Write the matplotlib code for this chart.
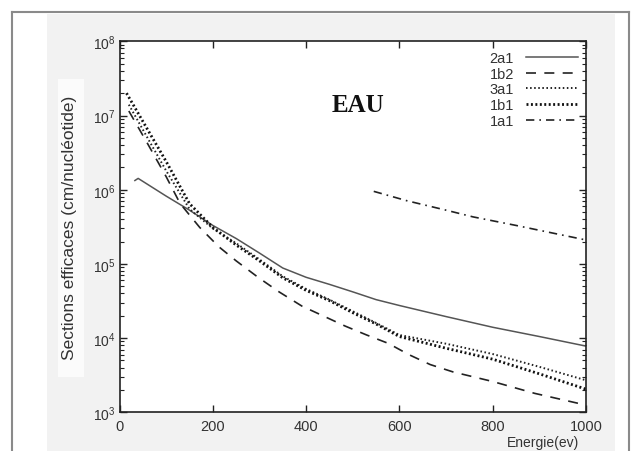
import matplotlib
matplotlib.use('Agg')
import matplotlib.pyplot as plt
from matplotlib.patches import Rectangle
from matplotlib.lines import Line2D
from matplotlib.ticker import FixedLocator, FixedFormatter, NullFormatter

plt.rcParams['font.family'] = ['Liberation Sans', 'DejaVu Sans']

# ---- data ----
x_2a1 = [33, 40, 100, 150, 200, 250, 300, 350, 400, 450, 500, 550, 600, 700, 800, 900, 1000]
y_2a1 = [1.33e6, 1.42e6, 8.2e5, 5.3e5, 3.3e5, 2.2e5, 1.4e5, 8.8e4, 6.6e4, 5.3e4, 4.2e4, 3.3e4, 2.75e4, 1.95e4, 1.4e4, 1.05e4, 7.8e3]

x_1b2 = [20, 60, 100, 130, 172, 213, 250, 297, 342, 391, 436, 484, 530, 576, 620, 666, 715, 800, 890, 1000]
y_1b2 = [1.15e7, 4.2e6, 1.5e6, 6.5e5, 3.1e5, 1.7e5, 1.1e5, 6.6e4, 4.2e4, 2.7e4, 2.0e4, 1.45e4, 1.1e4, 8.5e3, 6.0e3, 4.4e3, 3.5e3, 2.6e3, 1.8e3, 1.25e3]

x_3a1 = [20, 60, 100, 150, 200, 250, 300, 350, 400, 450, 500, 550, 600, 700, 800, 900, 1000]
y_3a1 = [1.4e7, 5.0e6, 1.8e6, 5.5e5, 3.0e5, 1.9e5, 1.15e5, 6.8e4, 4.6e4, 3.3e4, 2.3e4, 1.6e4, 1.1e4, 8.4e3, 6.1e3, 4.1e3, 2.7e3]

x_1b1 = [15, 60, 100, 150, 200, 250, 300, 350, 400, 450, 500, 550, 600, 700, 800, 900, 1000]
y_1b1 = [2.0e7, 6.5e6, 2.4e6, 6.5e5, 3.1e5, 1.8e5, 1.1e5, 6.5e4, 4.4e4, 3.2e4, 2.2e4, 1.55e4, 1.05e4, 7.3e3, 5.2e3, 3.3e3, 2.05e3]

x_1a1 = [545, 616, 700, 758, 850, 1000]
y_1a1 = [9.5e5, 7.1e5, 5.3e5, 4.3e5, 3.3e5, 2.1e5]

x_ticks = [0, 200, 400, 600, 800, 1000]
x_ticklabels = ['0', '200', '400', '600', '800', '1000']
y_ticks = [1e3, 1e4, 1e5, 1e6, 1e7, 1e8]
y_ticklabels = [r'$\mathregular{10^{3}}$', r'$\mathregular{10^{4}}$', r'$\mathregular{10^{5}}$',
                r'$\mathregular{10^{6}}$', r'$\mathregular{10^{7}}$', r'$\mathregular{10^{8}}$']

W, H = 642, 452
fig = plt.figure(figsize=(W / 100, H / 100), dpi=100)
fig.patch.set_facecolor('white')

# light grey panel
fig.add_artist(Rectangle((47 / W, 0), (615 - 47) / W, (H - 15) / H, transform=fig.transFigure,
                         facecolor='#f2f2f2', edgecolor='none', zorder=-10))
# white box behind y label
fig.add_artist(Rectangle((58 / W, 1 - 378 / H), (84 - 58) / W, (378 - 80) / H, transform=fig.transFigure,
                         facecolor='#fbfbfb', edgecolor='none', zorder=-9))
# outer frame
for (xs, ys) in [([12, 12], [13, 452]), ([12, 629], [13, 13]), ([629, 629], [13, 452])]:
    fig.add_artist(Line2D([v / W for v in xs], [1 - v / H for v in ys], transform=fig.transFigure,
                          color='#8a8a8a', lw=1.5))

ax = fig.add_axes([119.5 / W, 1 - 413.3 / H, (586 - 119.5) / W, (413.3 - 42.3) / H])
ax.set_facecolor('white')

ax.plot(x_2a1, y_2a1, color='#555555', lw=1.1, linestyle='-', label='2a1')
ax.plot(x_1b2, y_1b2, color='#222222', lw=1.2, linestyle=(0, (6, 5)), label='1b2')
ax.plot(x_3a1, y_3a1, color='#222222', lw=1.4, linestyle=(0, (0.8, 1.3)), label='3a1')
ax.plot(x_1b1, y_1b1, color='#111111', lw=2.0, linestyle=(0, (0.7, 0.9)), label='1b1')
ax.plot(x_1a1, y_1a1, color='#222222', lw=1.2, linestyle=(0, (5, 3, 1, 3)), label='1a1')

ax.set_yscale('log')
ax.set_xlim(0, 1000)
ax.set_ylim(1e3, 1e8)
ax.xaxis.set_major_locator(FixedLocator(x_ticks))
ax.xaxis.set_major_formatter(FixedFormatter(x_ticklabels))
ax.yaxis.set_major_locator(FixedLocator(y_ticks))
ax.yaxis.set_major_formatter(FixedFormatter(y_ticklabels))
minor = [m * 10 ** e for e in range(3, 8) for m in range(2, 10)]
ax.yaxis.set_minor_locator(FixedLocator(minor))
ax.yaxis.set_minor_formatter(NullFormatter())
ax.xaxis.set_minor_locator(FixedLocator([]))

ax.tick_params(axis='both', which='major', direction='in', length=5, width=1.0,
               top=True, right=True, colors='#222222', labelcolor='#333333')
ax.tick_params(axis='both', which='minor', direction='in', length=3, width=0.8,
               top=True, right=True, colors='#222222')
ax.tick_params(axis='x', labelsize=10.5, pad=5)
ax.tick_params(axis='y', labelsize=10, pad=3)
for s in ax.spines.values():
    s.set_color('#222222')
    s.set_linewidth(1.2)

leg = ax.legend(loc='upper right', bbox_to_anchor=((578 - 119.5) / 466.5, (413.3 - 52) / 371),
                frameon=False, markerfirst=False, fontsize=10.5, handlelength=3.6,
                labelspacing=0.12, borderpad=0, borderaxespad=0, handletextpad=0.8)
for t in leg.get_texts():
    t.set_color('#333333')

fig.text(358 / W, 1 - 105 / H, 'EAU', family=['Liberation Serif', 'DejaVu Serif'],
         fontweight='bold', fontsize=18, ha='center', va='center', color='#111111')
fig.text(70 / W, 1 - 228 / H, 'Sections efficaces (cm/nucléotide)', rotation=90,
         fontsize=12.5, ha='center', va='center', color='#333333')
fig.text(543 / W, 1 - 443 / H, 'Energie(ev)', fontsize=10, ha='center', va='center', color='#333333')

fig.savefig('out.png', dpi=100)
